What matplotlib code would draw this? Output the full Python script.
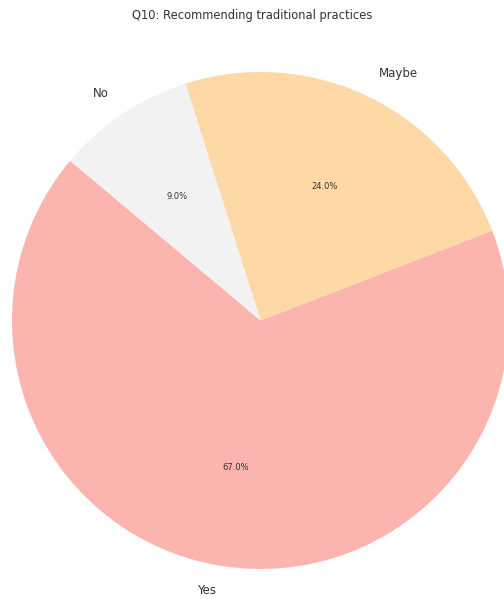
import matplotlib
matplotlib.use("Agg")
import matplotlib.pyplot as plt

categories = ["Yes", "Maybe", "No"]
shares = [67.0, 24.0, 9.0]
colors = ["#fbb4ae", "#fed9a6", "#f2f2f2"]
title = "Q10: Recommending traditional practices"

plt.rcParams["font.family"] = ["DejaVu Sans"]

W, H = 504, 599
fig = plt.figure(figsize=(W / 100, H / 100), dpi=100)
size = 497
ax = fig.add_axes([12 / W, 30 / H, size / W, size / H])

wedges, texts, autotexts = ax.pie(
    shares,
    labels=categories,
    colors=colors,
    autopct="%1.1f%%",
    startangle=140,
    labeldistance=1.1,
    pctdistance=0.6,
    textprops={"color": "#333333", "fontsize": 8.5},
)
for t in autotexts:
    t.set_fontsize(6)
for t in texts + autotexts:
    t.set_clip_on(False)
ax.set_xlim(-1, 1)
ax.set_ylim(-1, 1)
ax.set_aspect("equal")

fig.text(0.5, 1 - 16 / H, title, ha="center", va="center",
         fontsize=8.3, color="#333333")

fig.savefig("out.png", dpi=100)
